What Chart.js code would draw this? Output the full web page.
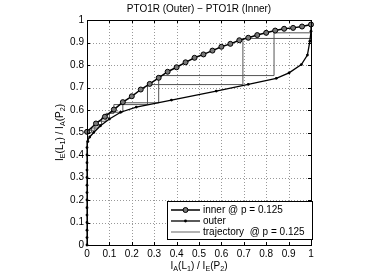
<!DOCTYPE html>
<html><head><meta charset="utf-8">
<script src="https://cdn.jsdelivr.net/npm/chart.js@4/dist/chart.umd.min.js"></script>
<style>html,body{margin:0;padding:0;background:#fff}#wrap{width:385px;height:276px}</style>
</head><body><div id="wrap"><canvas id="c" width="385" height="276"></canvas></div>
<script>
const titleText = 'PTO1R (Outer) − PTO1R (Inner)';
const xLabelParts = [['I',0],['A',1],['(L',0],['1',1],[') / I',0],['E',1],['(P',0],['2',1],[')',0]];
const yLabelParts = [['I',0],['E',1],['(L',0],['1',1],[') / I',0],['A',1],['(P',0],['2',1],[')',0]];
const legendLabels = ['inner @ p = 0.125', 'outer', 'trajectory  @ p = 0.125'];
const tickValues = [0,0.1,0.2,0.3,0.4,0.5,0.6,0.7,0.8,0.9,1];
const tickLabels = ['0','0.1','0.2','0.3','0.4','0.5','0.6','0.7','0.8','0.9','1'];

const innerX = [0,0.04,0.08,0.12,0.16,0.2,0.24,0.28,0.32,0.36,0.4,0.44,0.48,0.52,0.56,0.6,0.64,0.68,0.72,0.76,0.8,0.84,0.88,0.92,0.96,1.0];
const innerY = [0.503,0.54,0.57,0.602,0.635,0.661,0.691,0.716,0.743,0.77,0.79,0.812,0.832,0.847,0.864,0.881,0.894,0.91,0.921,0.933,0.943,0.953,0.961,0.965,0.971,0.98];

const outerX = [0,0,0,0,0,0,0,0,0,0,0,0,0,0,0.004,0.012,0.03,0.06,0.1,0.15,0.22,0.377,0.577,0.72,0.845,0.902,0.957,0.984,0.995,1,1];
const outerY = [0,0.033,0.066,0.1,0.133,0.166,0.2,0.233,0.266,0.3,0.333,0.366,0.4,0.433,0.46,0.48,0.5,0.53,0.56,0.59,0.613,0.644,0.684,0.714,0.741,0.765,0.802,0.844,0.906,0.95,0.975];

const trajAX = [0,0.035,0.035,0.065,0.065,0.1,0.1,0.16,0.16,0.32,0.32,0.835,0.835,1];
const trajAY = [0.51,0.51,0.535,0.535,0.565,0.565,0.59,0.59,0.632,0.632,0.753,0.753,0.943,0.943];
const trajBX = [0,0.02,0.02,0.05,0.05,0.085,0.085,0.12,0.12,0.27,0.27,0.696,0.696,1];
const trajBY = [0.5,0.5,0.52,0.52,0.55,0.55,0.585,0.585,0.624,0.624,0.713,0.713,0.918,0.918];

const pts = (xs, ys) => xs.map((x, i) => ({x, y: ys[i]}));
const FONT = '"Liberation Sans", Arial, sans-serif';

function drawParts(ctx, parts, cx, cy, size) {
  const subSize = size * 0.72;
  let w = 0;
  parts.forEach(([t, s]) => { ctx.font = (s ? subSize : size) + 'px ' + FONT; w += ctx.measureText(t).width; });
  let x = cx - w / 2;
  ctx.textAlign = 'left'; ctx.textBaseline = 'middle';
  parts.forEach(([t, s]) => {
    ctx.font = (s ? subSize : size) + 'px ' + FONT;
    ctx.fillText(t, x, cy + (s ? size * 0.35 : 0));
    x += ctx.measureText(t).width;
  });
}

const deco = {
  id: 'deco',
  beforeDatasetsDraw(chart) {
    const ctx = chart.ctx, a = chart.chartArea;
    const xs = chart.scales.x, ys = chart.scales.y;
    ctx.save();
    ctx.strokeStyle = '#999'; ctx.lineWidth = 1; ctx.setLineDash([1, 2]);
    ctx.beginPath();
    tickValues.forEach(v => {
      const px = Math.round(xs.getPixelForValue(v)) + 0.5;
      ctx.moveTo(px, a.top); ctx.lineTo(px, a.bottom);
      const py = Math.round(ys.getPixelForValue(v)) + 0.5;
      ctx.moveTo(a.left, py); ctx.lineTo(a.right, py);
    });
    ctx.stroke();
    ctx.restore();
  },
  afterDraw(chart) {
    const ctx = chart.ctx, a = chart.chartArea;
    const xs = chart.scales.x, ys = chart.scales.y;
    ctx.save();
    ctx.strokeStyle = '#000'; ctx.lineWidth = 1;
    ctx.strokeRect(Math.round(a.left) + 0.5, Math.round(a.top) + 0.5, Math.round(a.right - a.left), Math.round(a.bottom - a.top));
    ctx.beginPath();
    tickValues.forEach(v => {
      const px = Math.round(xs.getPixelForValue(v)) + 0.5;
      ctx.moveTo(px, a.bottom); ctx.lineTo(px, a.bottom - 3);
      ctx.moveTo(px, a.top); ctx.lineTo(px, a.top + 3);
      const py = Math.round(ys.getPixelForValue(v)) + 0.5;
      ctx.moveTo(a.left, py); ctx.lineTo(a.left + 3, py);
      ctx.moveTo(a.right, py); ctx.lineTo(a.right - 3, py);
    });
    ctx.stroke();
    ctx.fillStyle = '#000';
    ctx.font = '10px ' + FONT; ctx.textAlign = 'center'; ctx.textBaseline = 'middle';
    ctx.fillText(titleText, (a.left + a.right) / 2, 9);
    drawParts(ctx, xLabelParts, (a.left + a.right) / 2, 266, 10);
    ctx.save();
    ctx.translate(60, (a.top + a.bottom) / 2);
    ctx.rotate(-Math.PI / 2);
    drawParts(ctx, yLabelParts, 0, 0, 10);
    ctx.restore();
    // legend
    const lx = 167, ly = 201, lw = 145, lh = 38;
    ctx.fillStyle = '#fff'; ctx.fillRect(lx, ly, lw, lh);
    ctx.strokeStyle = '#000'; ctx.lineWidth = 1; ctx.strokeRect(lx + 0.5, ly + 0.5, lw, lh);
    const rows = [210, 221, 232];
    const styles = [
      {color: '#000', w: 1.5, marker: 'circle'},
      {color: '#000', w: 1.3, marker: 'dot'},
      {color: '#999', w: 1.5, marker: null}
    ];
    rows.forEach((ry, i) => {
      const s = styles[i];
      ctx.strokeStyle = s.color; ctx.lineWidth = s.w;
      ctx.beginPath(); ctx.moveTo(171, ry); ctx.lineTo(200, ry); ctx.stroke();
      if (s.marker === 'circle') {
        ctx.beginPath(); ctx.arc(185.5, ry, 2.5, 0, Math.PI * 2);
        ctx.fillStyle = '#777'; ctx.fill(); ctx.lineWidth = 1; ctx.strokeStyle = '#000'; ctx.stroke();
      } else if (s.marker === 'dot') {
        ctx.beginPath(); ctx.arc(185.5, ry, 1.4, 0, Math.PI * 2); ctx.fillStyle = '#000'; ctx.fill();
      }
      ctx.fillStyle = '#000'; ctx.font = '10px ' + FONT; ctx.textAlign = 'left'; ctx.textBaseline = 'middle';
      ctx.fillText(legendLabels[i], 203, ry);
    });
    ctx.restore();
  }
};

const axisCommon = {
  type: 'linear', min: 0, max: 1,
  afterBuildTicks: s => { s.ticks = tickValues.map(v => ({value: v})); },
  ticks: { callback: (v, i) => tickLabels[i], color: '#000', font: {size: 10, family: FONT}, padding: 3, maxRotation: 0, autoSkip: false },
  grid: { display: false, drawTicks: false },
  border: { display: false }
};

new Chart(document.getElementById('c'), {
  type: 'scatter',
  data: {
    datasets: [
      {data: pts(trajAX, trajAY), showLine: true, borderColor: '#555', borderWidth: 1, pointRadius: 0, order: 3, clip: false},
      {data: pts(trajBX, trajBY), showLine: true, borderColor: '#555', borderWidth: 1, pointRadius: 0, order: 3, clip: false},
      {data: pts(outerX, outerY), showLine: true, borderColor: '#000', borderWidth: 1.3, pointRadius: 1.4, pointBackgroundColor: '#000', pointBorderWidth: 0, order: 2, clip: false},
      {data: pts(innerX, innerY), showLine: true, borderColor: '#000', borderWidth: 1.5, pointRadius: 2.5, pointBackgroundColor: '#777', pointBorderColor: '#000', pointBorderWidth: 1, order: 1, clip: false}
    ]
  },
  options: {
    responsive: false, animation: false, devicePixelRatio: 1,
    layout: { padding: {top: 20, right: 74, left: 0, bottom: 0} },
    plugins: { legend: {display: false}, title: {display: false}, tooltip: {enabled: false} },
    scales: {
      x: Object.assign({}, axisCommon, { afterFit: s => { s.height = 31; } }),
      y: Object.assign({}, axisCommon, { afterFit: s => { s.width = 87; } })
    }
  },
  plugins: [deco]
});
</script></body></html>
